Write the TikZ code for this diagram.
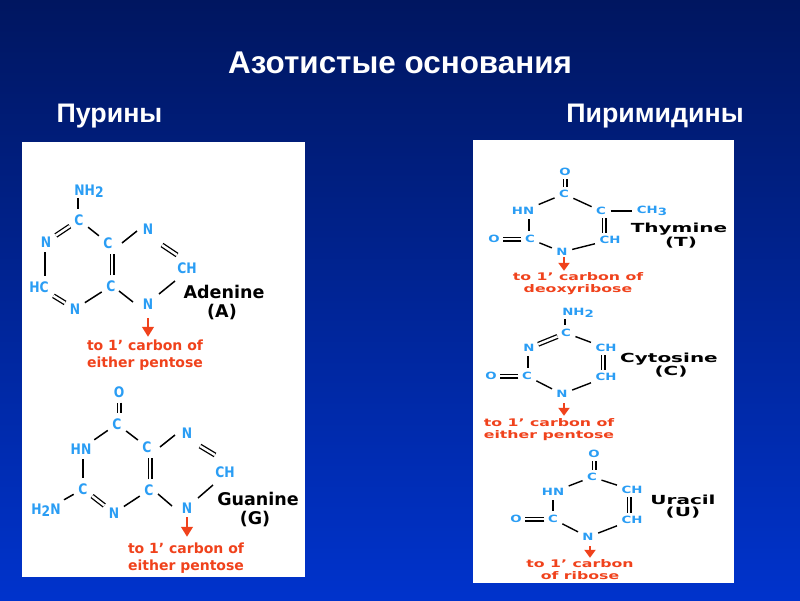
\documentclass[tikz,border=0pt]{standalone}
\usepackage{graphicx}
\usepackage{fontspec}
\setmainfont{Liberation Sans}
\newfontfamily\lab{DejaVu Sans}
\usetikzlibrary{arrows.meta}
\definecolor{atomc}{HTML}{2A9DF4}
\definecolor{redc}{HTML}{F0421C}
\definecolor{bgtop}{HTML}{001660}
\definecolor{bgbot}{HTML}{0033CC}
\newcommand{\sbb}[1]{\raisebox{-2.5pt}{#1}}
\newcommand{\nar}[1]{\scalebox{0.85}[1]{#1}}
\newcommand{\wid}[1]{\scalebox{1.33}[1]{#1}}
\newcommand{\nwid}[1]{\scalebox{1.6}[1]{#1}}
\newcommand{\rwid}[1]{\scalebox{1.5}[1]{#1}}
\tikzset{
  x=1pt,y=-1pt,
  headtext/.style={text=white,font=\bfseries\fontsize{26.8}{30}\selectfont,inner sep=0pt},
  panel/.style={fill=white,draw=none},
  atom/.style={text=atomc,font=\lab\bfseries\fontsize{14.5}{16}\selectfont,inner sep=2pt},
  atomr/.style={text=atomc,font=\lab\bfseries\fontsize{10}{12}\selectfont,inner sep=2.5pt},
  bond/.style={draw=black,line width=1.5pt,shorten >=3pt,shorten <=3pt},
  bondn/.style={draw=black,line width=1.5pt},
  bondr/.style={draw=black,line width=1.4pt,shorten >=2pt,shorten <=2pt},
  dbl/.style={draw=black,line width=1.3pt,double=white,double distance=2.4pt,shorten >=3pt,shorten <=3pt},
  dbln/.style={draw=black,line width=1.3pt,double=white,double distance=2.4pt},
  dblr/.style={draw=black,line width=1.3pt,double=white,double distance=2.4pt,shorten >=1pt,shorten <=1pt},
  basename/.style={text=black,font=\lab\bfseries\fontsize{17.5}{20}\selectfont,inner sep=0pt},
  basenamer/.style={text=black,font=\lab\bfseries\fontsize{12.5}{14}\selectfont,inner sep=0pt},
  note/.style={text=redc,font=\lab\bfseries\fontsize{14}{17}\selectfont,inner sep=0pt,align=center},
  noter/.style={text=redc,font=\lab\bfseries\fontsize{10.5}{11.3}\selectfont,inner sep=0pt,align=center},
  link/.style={draw=redc,line width=2.5pt,-{Triangle[length=10pt,width=11.5pt]}},
  linkr/.style={draw=redc,line width=2.5pt,-{Triangle[length=8pt,width=11pt]}},
  pt/.style={inner sep=0pt,minimum size=0pt}
}
\begin{document}
\begin{tikzpicture}
\useasboundingbox (0,0) rectangle (800,600);
\shade[top color=bgtop,bottom color=bgbot] (0,0) rectangle (800,600);
\node[headtext] (head) at (400,63) {\fontsize{31.4}{34}\selectfont Азотистые основания};
\node[headtext] (p1) at (109.5,116) {Пурины};
\node[headtext] (p2) at (655,116) {Пиримидины};
\fill[panel] (22,142) rectangle (305,577);
\fill[panel] (473,140) rectangle (734,583);

% Adenine
\node[atom] (a1) at (89,191) {\nar{NH\sbb{2}}};
\node[atom] (a2) at (79,220) {\nar{C}};
\node[atom] (a3) at (46,242) {\nar{N}};
\node[atom] (a4) at (39,287) {\nar{HC}};
\node[atom] (a5) at (75,309) {\nar{N}};
\node[atom] (a6) at (111,286) {\nar{C}};
\node[atom] (a7) at (108,243) {\nar{C}};
\node[atom] (a8) at (148,229) {\nar{N}};
\node[atom] (a9) at (187,268) {\nar{CH}};
\node[atom] (a10) at (148,304) {\nar{N}};
\coordinate (a1b) at (78,195);
\draw[bond] (a1b) -- ([xshift=-1pt]a2.north);
\draw[dbl] (a2) -- (a3);
\draw[bond] ([xshift=-1pt]a3.south) -- ([xshift=6pt]a4.north);
\draw[dbl] (a4) -- (a5);
\draw[bond] (a5) -- (a6);
\draw[dbl] ([xshift=1pt]a6.north) -- ([xshift=4pt]a7.south);
\draw[bond] (a7) -- (a2);
\draw[bondn] ([shift={(14,0)}]a7.center) -- ([shift={(-11,2)}]a8.center);
\draw[dbln] ([shift={(14,16)}]a8.center) -- ([shift={(-10,-13)}]a9.center);
\draw[bondn] ([shift={(-12,13)}]a9.center) -- ([shift={(11,-10)}]a10.center);
\draw[bondn] ([shift={(-15,-2)}]a10.center) -- ([shift={(8,5)}]a6.center);
\node[basename] (an) at (224,292) {Adenine};
\node[basename] (al) at (222,312) {(A)};
\node[pt] (aa) at (148,318) {};
\node[pt] (ab) at (148,337) {};
\draw[link] (aa) -- (ab);
\node[note] (at) at (145,355) {to 1’ carbon of\\either pentose};

% Guanine
\node[atom] (g1) at (119,392) {\nar{O}};
\node[atom] (g2) at (117,424) {\nar{C}};
\node[atom] (g3) at (81,449) {\nar{HN}};
\node[atom] (g4) at (83,489) {\nar{C}};
\node[atom] (g5) at (46,510) {\nar{H\sbb{2}N}};
\node[atom] (g6) at (114,513) {\nar{N}};
\node[atom] (g7) at (149,490) {\nar{C}};
\node[atom] (g8) at (147,447) {\nar{C}};
\node[atom] (g9) at (187,433) {\nar{N}};
\node[atom] (g10) at (225,472) {\nar{CH}};
\node[atom] (g11) at (187,508) {\nar{N}};
\draw[dbl] (g1) -- ([xshift=2pt]g2.north);
\draw[bond] (g2) -- (g3);
\draw[bond] ([xshift=2pt]g3.south) -- (g4.north);
\draw[bond] (g4) -- (g5);
\draw[dbl] (g4) -- (g6);
\draw[bond] (g6) -- (g7);
\draw[dbl] ([xshift=1pt]g7.north) -- ([xshift=3pt]g8.south);
\draw[bond] (g8) -- (g2);
\draw[bondn] ([shift={(13,0)}]g8.center) -- ([shift={(-12,2)}]g9.center);
\draw[dbln] ([shift={(13,13)}]g9.center) -- ([shift={(-10,-17)}]g10.center);
\draw[bondn] ([shift={(-12,13)}]g10.center) -- ([shift={(11,-10)}]g11.center);
\draw[bondn] ([shift={(-15,-2)}]g11.center) -- ([shift={(9,4)}]g7.center);
\node[basename] (gn) at (258,499) {Guanine};
\node[basename] (gl) at (255,519) {(G)};
\node[pt] (ga) at (187,517) {};
\node[pt] (gb) at (187,537) {};
\draw[link] (ga) -- (gb);
\node[note] (gt) at (186,558) {to 1’ carbon of\\either pentose};

% Thymine
\node[atomr] (t1) at (565,172) {\wid{O}};
\node[atomr] (t2) at (564,194) {\wid{C}};
\node[atomr] (t3) at (523,211) {\wid{HN}};
\node[atomr] (t4) at (530,239) {\wid{C}};
\node[atomr] (t5) at (494,239) {\wid{O}};
\node[atomr] (t6) at (562,252) {\wid{N}};
\node[atomr] (t7) at (610,240) {\wid{CH}};
\node[atomr] (t8) at (601,211) {\wid{C}};
\node[atomr] (t9) at (652,211) {\wid{CH\sbb{3}}};
\draw[dblr] (t1) -- ([xshift=1pt]t2.north);
\draw[bondr] (t2) -- (t3);
\draw[bondr] ([xshift=6pt]t3.south) -- ([xshift=-1pt]t4.north);
\draw[dblr] (t4) -- (t5);
\draw[bondr] (t4) -- (t6);
\draw[bondr] (t6) -- (t7);
\draw[dblr] ([xshift=-6pt]t7.north) -- ([xshift=3pt]t8.south);
\draw[bondr] (t8) -- (t2);
\draw[bondr] (t8) -- (t9);
\node[basenamer] (tn) at (679,229) {\nwid{Thymine}};
\node[basenamer] (tl) at (681,243) {\nwid{(T)}};
\node[pt] (ta) at (564,257) {};
\node[pt] (tb) at (564,271) {};
\draw[linkr] (ta) -- (tb);
\node[noter] (tt) at (578,283.5) {\rwid{to 1’ carbon of}\\\rwid{deoxyribose}};

% Cytosine
\node[atomr] (c1) at (578,313) {\wid{NH\sbb{2}}};
\node[atomr] (c2) at (566,333) {\wid{C}};
\node[atomr] (c3) at (529,348) {\wid{N}};
\node[atomr] (c4) at (527,376) {\wid{C}};
\node[atomr] (c5) at (491,376) {\wid{O}};
\node[atomr] (c6) at (562,394) {\wid{N}};
\node[atomr] (c7) at (606,377) {\wid{CH}};
\node[atomr] (c8) at (606,348) {\wid{CH}};
\coordinate (c1b) at (565,317);
\draw[bondr] (c1b) -- ([xshift=-1pt]c2.north);
\draw[dblr] (c2) -- (c3);
\draw[bondr] ([xshift=-1pt]c3.south) -- ([xshift=1pt]c4.north);
\draw[dblr] (c4) -- (c5);
\draw[bondr] (c4) -- (c6);
\draw[bondr] (c6) -- (c7);
\draw[dblr] ([xshift=-3pt]c7.north) -- ([xshift=-3pt]c8.south);
\draw[bondr] (c8) -- (c2);
\node[basenamer] (cn) at (669,359) {\nwid{Cytosine}};
\node[basenamer] (cl) at (671,372) {\nwid{(C)}};
\node[pt] (ca) at (564,403) {};
\node[pt] (cb) at (564,416) {};
\draw[linkr] (ca) -- (cb);
\node[noter] (ct) at (549,429.5) {\rwid{to 1’ carbon of}\\\rwid{either pentose}};

% Uracil
\node[atomr] (u1) at (594,454) {\wid{O}};
\node[atomr] (u2) at (592,477) {\wid{C}};
\node[atomr] (u3) at (553,492) {\wid{HN}};
\node[atomr] (u4) at (553,519) {\wid{C}};
\node[atomr] (u5) at (516,519) {\wid{O}};
\node[atomr] (u6) at (588,537) {\wid{N}};
\node[atomr] (u7) at (632,520) {\wid{CH}};
\node[atomr] (u8) at (632,490) {\wid{CH}};
\draw[dblr] (u1) -- ([xshift=2pt]u2.north);
\draw[bondr] (u2) -- (u3);
\draw[bondr] (u3) -- (u4);
\draw[dblr] (u4) -- (u5);
\draw[bondr] (u4) -- (u6);
\draw[bondr] (u6) -- (u7);
\draw[dblr] ([xshift=-3pt]u7.north) -- ([xshift=-3pt]u8.south);
\draw[bondr] (u8) -- (u2);
\node[basenamer] (un) at (683,500) {\nwid{Uracil}};
\node[basenamer] (ul) at (683,513) {\nwid{(U)}};
\node[pt] (ua) at (590,546) {};
\node[pt] (ub) at (590,558) {};
\draw[linkr] (ua) -- (ub);
\node[noter] (ut) at (580,569.5) {\rwid{to 1’ carbon}\\\rwid{of ribose}};
\end{tikzpicture}
\end{document}
